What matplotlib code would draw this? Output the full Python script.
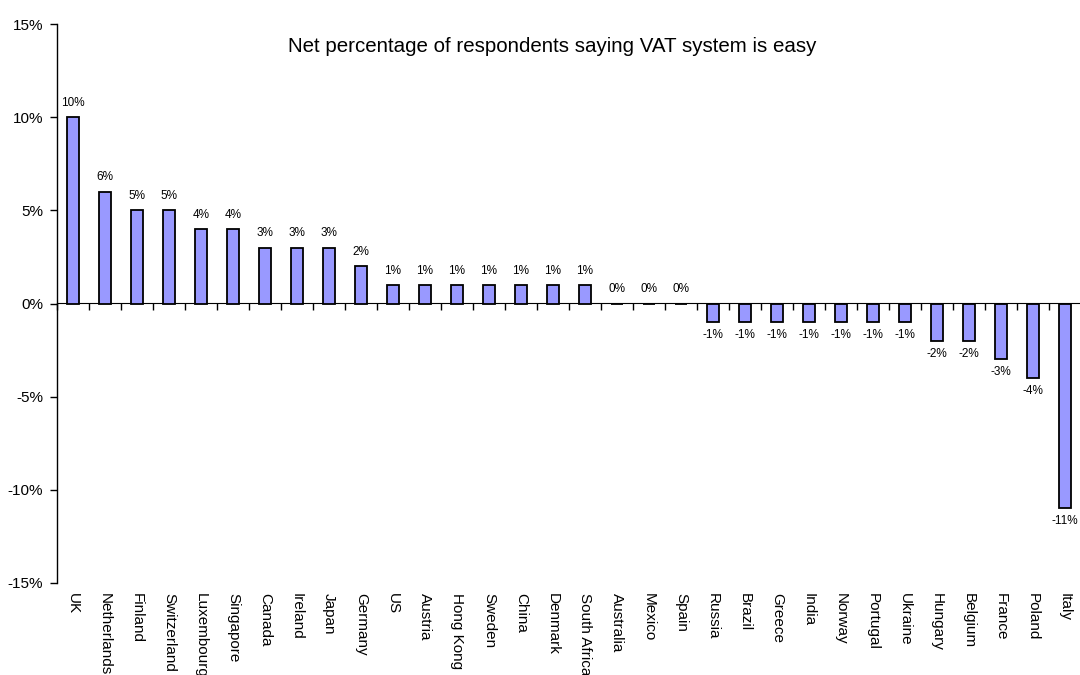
import matplotlib
matplotlib.use("Agg")
import matplotlib.pyplot as plt
from matplotlib.ticker import FuncFormatter

plt.rcParams['font.family'] = ['Liberation Sans', 'DejaVu Sans']

# data
countries = ['UK', 'Netherlands', 'Finland', 'Switzerland', 'Luxembourg', 'Singapore',
             'Canada', 'Ireland', 'Japan', 'Germany', 'US', 'Austria', 'Hong Kong',
             'Sweden', 'China', 'Denmark', 'South Africa', 'Australia', 'Mexico', 'Spain',
             'Russia', 'Brazil', 'Greece', 'India', 'Norway', 'Portugal', 'Ukraine',
             'Hungary', 'Belgium', 'France', 'Poland', 'Italy']
net_pct = [10, 6, 5, 5, 4, 4, 3, 3, 3, 2, 1, 1, 1, 1, 1, 1, 1, 0, 0, 0,
           -1, -1, -1, -1, -1, -1, -1, -2, -2, -3, -4, -11]
title = 'Net percentage of respondents saying VAT system is easy'

n = len(countries)
fig = plt.figure(figsize=(10.8, 6.75), dpi=100)
ax = fig.add_axes([57/1080, 92/675, 1024/1080, 559/675])

x = list(range(n))
ax.bar(x, net_pct, width=0.4, color='#9999ff', edgecolor='black', linewidth=1.3, zorder=3)

ax.set_xlim(-0.5, n - 0.5)
ax.set_ylim(-15, 15)
ax.set_yticks([-15, -10, -5, 0, 5, 10, 15])
ax.yaxis.set_major_formatter(FuncFormatter(lambda v, p: '%d%%' % v))
ax.tick_params(axis='y', direction='out', length=5, width=1, labelsize=11, pad=5)

for s in ['top', 'right', 'bottom']:
    ax.spines[s].set_visible(False)
ax.spines['left'].set_linewidth(1)

# category labels at the bottom
ax.set_xticks(x)
ax.set_xticklabels(countries, rotation=270, fontsize=11, va='top', ha='center')
ax.tick_params(axis='x', length=0, pad=7)

# zero line with ticks between categories
sec = ax.secondary_xaxis(0.5)
sec.set_xticks([i + 0.5 for i in range(-1, n)])
sec.set_xticklabels([])
sec.tick_params(direction='in', length=5, width=1)
sec.spines['bottom'].set_linewidth(1)

# data labels
for i, v in enumerate(net_pct):
    if v >= 0:
        ax.annotate('%d%%' % v, (i, v), xytext=(0, 6), textcoords='offset points',
                    ha='center', va='bottom', fontsize=8.5)
    else:
        ax.annotate('%d%%' % v, (i, v), xytext=(0, -5), textcoords='offset points',
                    ha='center', va='top', fontsize=8.5)

fig.text(552/1080, 1 - 46/675, title, ha='center', va='center', fontsize=14.8)

fig.savefig('out.png', dpi=100)
